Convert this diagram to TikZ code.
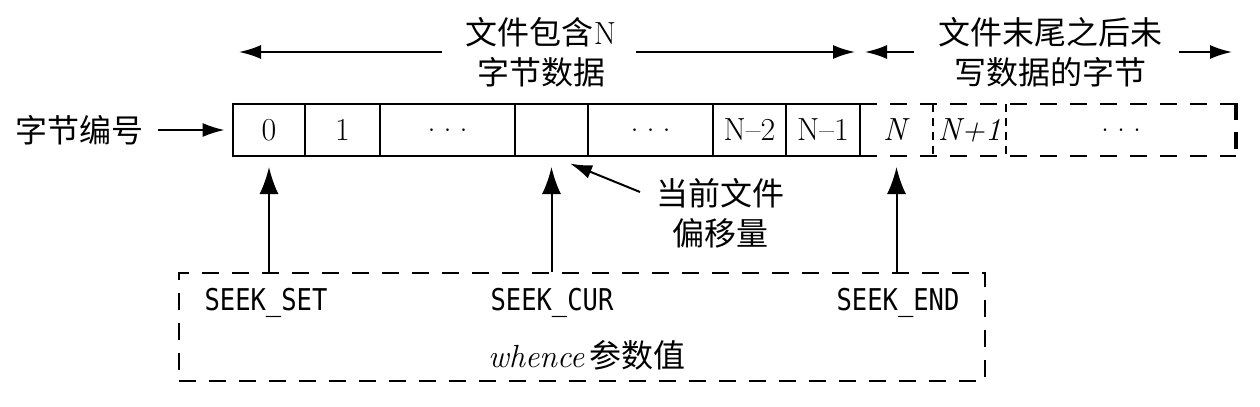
\documentclass[tikz,border=0pt]{standalone}
\usepackage{fontspec}
\usepackage{graphicx}
\newfontfamily\cjk{Noto Sans CJK SC}
\newfontfamily\seekfont[FakeStretch=0.85]{DejaVu Sans Mono}
\usetikzlibrary{arrows.meta}
\newcommand{\spread}{.\hspace{4pt}.\hspace{4pt}.}
\tikzset{
  lbl/.style={inner sep=0pt, align=center, font=\fontsize{16}{20}\selectfont},
  seek/.style={inner sep=0pt, font=\seekfont\fontsize{15}{18}\selectfont},
  divider/.style={line width=1pt},
  outline/.style={draw, line width=1.4pt, inner sep=0pt},
  dashline/.style={line width=1.3pt, dash pattern=on 8.5pt off 6.5pt},
  thindash/.style={line width=0.8pt, dash pattern=on 4pt off 3pt},
  wbox/.style={draw, inner sep=0pt, line width=0.8pt, dash pattern=on 8.5pt off 6.5pt},
  harr/.style={line width=1pt, -{Latex[length=11pt,width=7pt]}},
  varr/.style={line width=1pt, -{Latex[length=13.5pt,width=9.5pt]}},
}
\begin{document}
\begin{tikzpicture}[x=0.5pt,y=-0.5pt]
    \useasboundingbox (0,0) rectangle (1260,407);

    % Bytes inside the file
    \foreach \l/\r/\t/\n in {
        233/305/0/c0,
        305/380/1/c1,
        380/515/\spread/c2,
        515/588//c3,
        588/713/\spread/c4,
        713/786/N--2/c5,
        786/860/N--1/c6
        } {
        \draw[divider] (\l,104) rectangle (\r,156);
        \node[lbl] (\n) at ({(\l+\r)/2},130) {\t};
        \coordinate (\n-b) at ({(\l+\r)/2},156);
    }
    \node[outline, minimum width=313.5pt, minimum height=26pt] (file) at (546.5,130) {};

    % Bytes past the end of the file
    \foreach \l/\r/\t/\n in {
        860/933/\textit{N}/c7,
        933/1006/\textit{N+1}/c8,
        1006/1236/\spread/c9
        } {
        \node[lbl] (\n) at ({(\l+\r)/2},130) {\t};
        \coordinate (\n-b) at ({(\l+\r)/2},156);
    }
    \draw[dashline] (860,104) -- (1236,104);
    \draw[dashline] (860,156) -- (1236,156);
    \draw[dashline, line width=1.6pt, dash pattern=on 8.5pt off 6pt] (1236,103) -- (1236,156);
    \draw[thindash] (933,104) -- (933,156);
    \draw[thindash] (1006,104) -- (1006,156);

    % Spans on top
    \coordinate (span-a) at (233,52);
    \coordinate (span-b) at (860,52);
    \coordinate (span-c) at (1236,52);
    \node[lbl] (top1) at (541,52) {{\cjk 文件包含}N\\{\cjk 字节数据}};
    \node[lbl] (top2) at (1050,52) {{\cjk 文件末尾之后未}\\{\cjk 写数据的字节}};
    \draw[harr, shorten <=12pt, shorten >=3pt] (top1) -- (span-a);
    \draw[harr, shorten <=10pt, shorten >=2.5pt] (top1) -- (span-b);
    \draw[harr, shorten <=12pt, shorten >=2.5pt] (top2) -- (span-b);
    \draw[harr, shorten <=8.5pt, shorten >=2pt] (top2) -- (span-c);

    % Byte numbers
    \node[lbl] (bytes) at (80,130) {{\cjk 字节编号}};
    \draw[harr, shorten <=7pt, shorten >=3.5pt] (bytes) -- (file);

    % Current offset
    \node[lbl] (offs) at (720,213) {{\cjk 当前文件}\\{\cjk 偏移量}};
    \coordinate (offs-tail) at (640,192);
    \draw[harr, shorten >=10pt] (offs-tail) -- (c3-b);

    % whence values
    \node[wbox, minimum width=403pt, minimum height=54pt] (whence) at (582,327) {};
    \node[seek] (set) at (266,303) {SEEK\_SET};
    \node[seek] (cur) at (552,303) {SEEK\_CUR};
    \node[seek] (end) at (898,303) {SEEK\_END};
    \node[lbl] (wlabel) at (587,355) {\textit{whence}\,{\cjk 参数值}};
    \draw[varr, shorten >=5.5pt] (c0-b |- whence.north) -- (c0-b);
    \draw[varr, shorten >=5.5pt] (c3-b |- whence.north) -- (c3-b);
    \draw[varr, shorten >=5.5pt] (c7-b |- whence.north) -- (c7-b);
\end{tikzpicture}
\end{document}
